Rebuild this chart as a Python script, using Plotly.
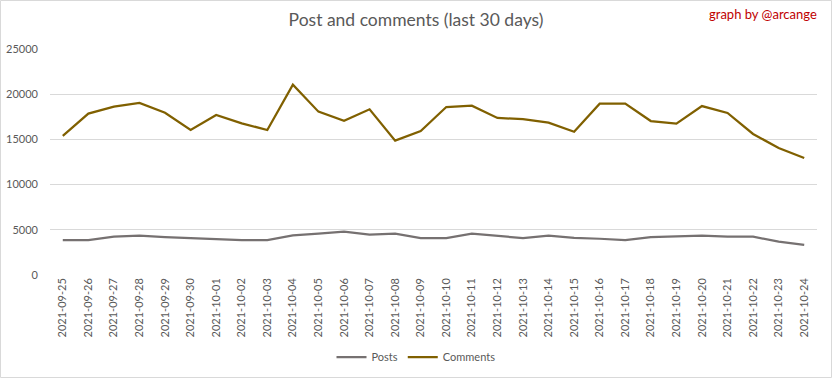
import plotly.graph_objects as go

dates = ["2021-09-25", "2021-09-26", "2021-09-27", "2021-09-28", "2021-09-29", "2021-09-30",
         "2021-10-01", "2021-10-02", "2021-10-03", "2021-10-04", "2021-10-05", "2021-10-06",
         "2021-10-07", "2021-10-08", "2021-10-09", "2021-10-10", "2021-10-11", "2021-10-12",
         "2021-10-13", "2021-10-14", "2021-10-15", "2021-10-16", "2021-10-17", "2021-10-18",
         "2021-10-19", "2021-10-20", "2021-10-21", "2021-10-22", "2021-10-23", "2021-10-24"]

posts = [3870, 3870, 4240, 4350, 4200, 4090, 3980, 3870, 3870, 4380, 4570, 4790,
         4460, 4570, 4090, 4090, 4570, 4310, 4090, 4350, 4100, 4010, 3870, 4200,
         4240, 4350, 4240, 4240, 3690, 3320]

comments = [15380, 17850, 18620, 19030, 17950, 16040, 17700, 16780, 16040, 21050, 18070, 17070,
            18330, 14860, 15930, 18580, 18730, 17370, 17250, 16850, 15850, 18950, 18950, 17030,
            16740, 18690, 17920, 15600, 14050, 12940]

y_ticks = [0, 5000, 10000, 15000, 20000, 25000]

text_color = "#595959"
grid_color = "#d9d9d9"
font_family = "Lato, Open Sans, sans-serif"

fig = go.Figure()
fig.add_trace(go.Scatter(x=dates, y=posts, name="Posts", mode="lines",
                         line=dict(color="#767171", width=2.25)))
fig.add_trace(go.Scatter(x=dates, y=comments, name="Comments", mode="lines",
                         line=dict(color="#806000", width=2.25)))

L, R, T, B = 50, 15, 49, 103
W, H = 832, 378
pw, ph = W - L - R, H - T - B

fig.update_layout(
    width=W, height=H,
    margin=dict(l=L, r=R, t=T, b=B, pad=0, autoexpand=False),
    paper_bgcolor="white", plot_bgcolor="white",
    font=dict(family=font_family, color=text_color, size=11),
    title=dict(text="Post and comments (last 30 days)", x=0.5, xref="container", xanchor="center",
               y=1 - 20 / H, yref="container", yanchor="middle",
               font=dict(family=font_family, size=17.5, color=text_color)),
    showlegend=True,
    legend=dict(orientation="h", x=0.5, xanchor="center", xref="container",
                y=1 - 357 / H, yanchor="middle", yref="container",
                font=dict(size=11, color=text_color), itemwidth=30, bgcolor="rgba(0,0,0,0)"),
    xaxis=dict(type="category", range=[-0.5, len(dates) - 0.5], tickangle=-90,
               showgrid=False, zeroline=False, showline=False, ticks="", automargin=False,
               tickfont=dict(size=11, color=text_color), fixedrange=True),
    yaxis=dict(range=[0, 25000], tickvals=y_ticks, ticktext=[str(v) for v in y_ticks],
               showgrid=True, gridcolor=grid_color, gridwidth=1, zeroline=False, showline=False,
               ticks="", ticklabelstandoff=11, automargin=False,
               tickfont=dict(size=11, color=text_color), fixedrange=True),
    annotations=[dict(text="graph by @arcange", xref="paper", yref="paper",
                      x=(819 - L) / pw, y=(T + ph - 14) / ph, xanchor="right", yanchor="middle",
                      showarrow=False, font=dict(family=font_family, size=13, color="#c00000"))],
    shapes=[dict(type="rect", xref="paper", yref="paper",
                 x0=(0.5 - L) / pw, x1=(W - 0.5 - L) / pw,
                 y0=(T + ph - (H - 0.5)) / ph, y1=(T + ph - 0.5) / ph,
                 line=dict(color=grid_color, width=1), fillcolor="rgba(0,0,0,0)", layer="below")],
)

fig.write_html("out.html", config={"displayModeBar": False},
               post_script="document.body.style.margin='0';document.body.style.overflow='hidden';")
